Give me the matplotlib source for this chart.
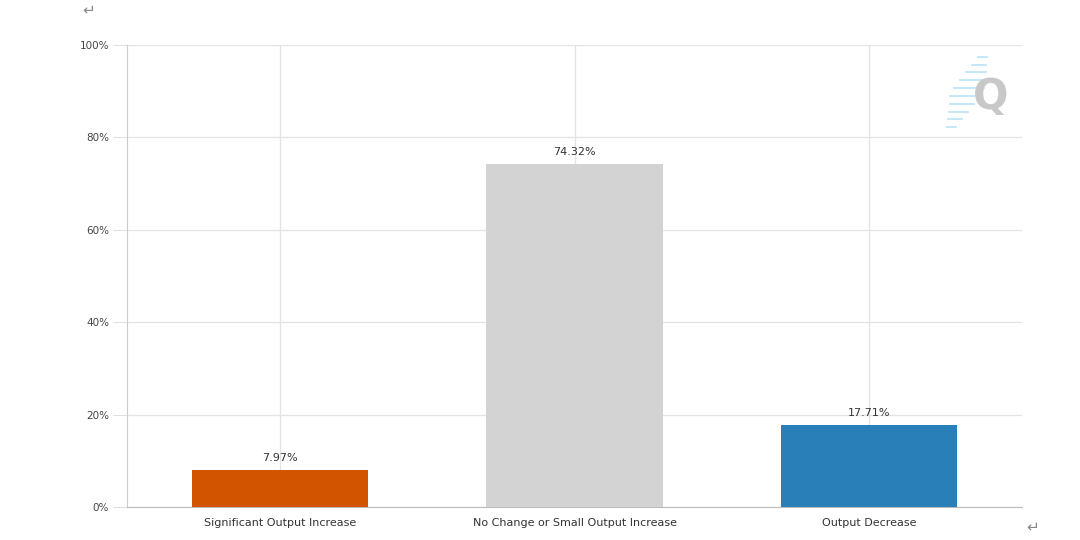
import numpy as np
import matplotlib
matplotlib.use('Agg')
import matplotlib.pyplot as plt
from matplotlib.ticker import PercentFormatter

categories = ['Significant Output Increase', 'No Change or Small Output Increase', 'Output Decrease']
values = [7.97, 74.32, 17.71]
colors = ['#d35400', '#d3d3d3', '#2980b9']
yticks = [0, 20, 40, 60, 80, 100]

fig = plt.figure(figsize=(10.8, 5.4), dpi=100)
ax = fig.add_axes([0.1176, 0.0611, 0.8287, 0.8556])

x = np.arange(len(categories))
bars = ax.bar(x, values, width=0.6, color=colors, zorder=3)
for b, v in zip(bars, values):
    ax.text(b.get_x() + b.get_width() / 2, v + 1.5, f'{v:.2f}%', ha='center', va='bottom',
            fontsize=8, color='#333333', zorder=4)

ax.set_xlim(-0.52, 2.52)
ax.set_ylim(0, 100)
ax.set_xticks(x)
ax.set_xticklabels(categories, fontsize=8, color='#333333')
ax.set_yticks(yticks)
ax.yaxis.set_major_formatter(PercentFormatter(decimals=0))
ax.tick_params(axis='y', labelsize=7.5, labelcolor='#444444', length=10, color='#e0e0e0', pad=3)
ax.tick_params(axis='x', length=0, pad=8)
ax.grid(True, color='#e3e3e3', linewidth=0.9, zorder=0)

for side in ['top', 'right']:
    ax.spines[side].set_visible(False)
ax.spines['left'].set_color('#cccccc')
ax.spines['bottom'].set_color('#bbbbbb')

# watermark: faint blue speed dashes behind a grey Q
for i in range(10):
    yy = 0.895 - i * 0.0145
    xx = 0.91 - i * 0.0032
    half = 0.004 + (4.5 - abs(i - 4.5)) * 0.0025
    fig.add_artist(plt.Line2D([xx - half, xx + half], [yy, yy],
                              color='#bfe6f7', lw=1.3, transform=fig.transFigure, zorder=5))
fig.text(0.917, 0.82, 'Q', fontsize=30, fontweight='bold', color='#c8c8c8',
         ha='center', va='center', zorder=6)

fig.text(0.082, 0.995, '↵', fontsize=11, color='#888888', ha='center', va='top')
fig.text(0.956, 0.025, '↵', fontsize=11, color='#888888', ha='center', va='center')

fig.savefig('out.png', dpi=100)
